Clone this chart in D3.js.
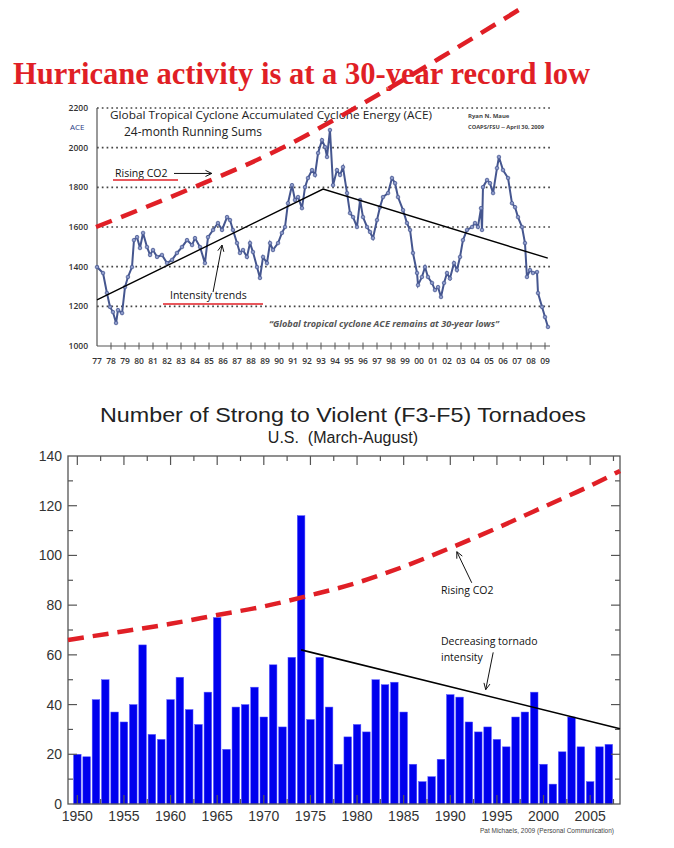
<!DOCTYPE html>
<html>
<head>
<meta charset="utf-8">
<script src="https://cdn.jsdelivr.net/npm/d3@7"></script>
<style>
  body { margin: 0; background: #fff; }
  svg { display: block; }
</style>
</head>
<body>
<svg id="chart" width="674" height="848"></svg>
<script>
// ---- hurricane ACE panel data ----
const aceYears = [1977.00,1977.43,1977.71,1977.93,1978.14,1978.36,1978.50,1978.79,1979.00,1979.21,1979.50,1979.64,1979.86,
  1980.07,1980.29,1980.57,1980.79,1981.00,1981.29,1981.64,1982.00,1982.36,1982.71,1983.07,1983.43,1983.79,1984.00,1984.36,
  1984.71,1984.93,1985.29,1985.64,1985.93,1986.29,1986.50,1986.71,1987.00,1987.21,1987.43,1987.71,1987.93,1988.14,1988.43,
  1988.64,1988.86,1989.14,1989.36,1989.57,1989.93,1990.21,1990.43,1990.64,1990.93,1991.14,1991.36,1991.64,1991.86,1992.07,
  1992.36,1992.57,1992.79,1993.07,1993.29,1993.43,1993.64,1993.86,1994.14,1994.36,1994.57,1994.86,1995.07,1995.29,1995.57,
  1995.79,1996.00,1996.29,1996.50,1996.71,1997.00,1997.21,1997.43,1997.79,1998.07,1998.29,1998.50,1998.86,1999.14,1999.36,
  1999.57,1999.86,1999.93,2000.21,2000.43,2000.64,2000.93,2001.14,2001.36,2001.57,2001.79,2002.00,2002.21,2002.50,2002.71,
  2002.93,2003.14,2003.43,2003.79,2004.00,2004.21,2004.43,2004.50,2004.57,2004.86,2005.07,2005.29,2005.57,2005.71,2006.00,
  2006.36,2006.64,2006.86,2007.07,2007.36,2007.57,2007.71,2007.93,2008.14,2008.43,2008.50,2008.79,2009.00,2009.21];
const aceValues = [1398,1368,1267,1197,1171,1116,1181,1166,1297,1348,1398,1534,1549,
  1494,1570,1499,1459,1484,1449,1459,1418,1434,1469,1499,1534,1509,1544,1499,
  1418,1549,1585,1620,1585,1650,1635,1585,1519,1469,1484,1449,1519,1474,1398,
  1343,1449,1418,1519,1484,1519,1570,1600,1720,1811,1736,1751,1695,1801,1847,
  1887,1862,1973,2038,2003,1953,2089,1811,1887,1862,1902,1771,1670,1650,1600,
  1736,1650,1600,1575,1544,1635,1700,1751,1771,1847,1821,1751,1685,1620,1585,
  1469,1368,1307,1348,1398,1348,1318,1282,1297,1247,1318,1368,1340,1418,1383,
  1449,1534,1585,1600,1620,1600,1695,1585,1801,1837,1821,1771,1897,1953,1887,
  1847,1720,1700,1650,1600,1519,1348,1383,1368,1373,1267,1197,1146,1096];
const aceTrendYears = [1977, 1993.15, 2009.2];
const aceTrendValues = [1232, 1791, 1443];
const aceCo2Years = [1976.93, 1983.64, 1990.21, 1995.43, 2001.5, 2007.36];
const aceCo2Values = [1600, 1792, 1998, 2200, 2452, 2705];
const aceYTicks = [1000, 1200, 1400, 1600, 1800, 2000, 2200];
const aceXLabels = ["77","78","79","80","81","82","83","84","85","86","87","88","89","90","91","92","93",
  "94","95","96","97","98","99","00","01","02","03","04","05","06","07","08","09"];

// ---- tornado panel data ----
const tornadoYears = d3.range(1950, 2008);
const tornadoCounts = [20,19,42,50,37,33,40,64,28,26,42,51,38,32,45,75,22,39,40,47,35,56,31,59,116,
  34,59,39,16,27,32,29,50,48,49,37,16,9,11,18,44,43,33,29,31,26,23,35,37,45,16,8,21,35,23,9,23,24];
const tornadoCo2Years = [1949, 1955, 1960, 1965, 1970, 1975, 1980, 1985, 1990, 1995, 2000, 2005, 2008.2];
const tornadoCo2Values = [66, 69.5, 72.5, 76, 79.5, 84, 89, 95.5, 103, 111, 119.5, 128, 134];
const tornadoTrendYears = [1974, 2008.2];
const tornadoTrendValues = [62, 30.3];
const tornadoYTicks = [0, 20, 40, 60, 80, 100, 120, 140];
const tornadoXLabels = [1950, 1955, 1960, 1965, 1970, 1975, 1980, 1985, 1990, 1995, 2000, 2005];

const svg = d3.select("#chart");
const red = "#e01f26";

// arrow helper (open head)
function arrow(g, x1, y1, x2, y2, color, w) {
  g.append("line").attr("x1", x1).attr("y1", y1).attr("x2", x2).attr("y2", y2)
    .attr("stroke", color).attr("stroke-width", w);
  const a = Math.atan2(y2 - y1, x2 - x1);
  [0.45, -0.45].forEach(function(d) {
    g.append("line").attr("x1", x2).attr("y1", y2)
      .attr("x2", x2 - 7 * Math.cos(a + d)).attr("y2", y2 - 7 * Math.sin(a + d))
      .attr("stroke", color).attr("stroke-width", w);
  });
}

// =================== TOP: hurricane ACE ===================
const gTop = svg.append("g");
const ax = d3.scaleLinear().domain([1977, 2009]).range([97, 545]);
const ay = d3.scaleLinear().domain([1000, 2200]).range([346, 108]);

gTop.append("text")
  .attr("x", 13).attr("y", 84)
  .attr("font-family", "Liberation Serif, serif").attr("font-weight", "bold")
  .attr("font-size", 31).attr("fill", red)
  .attr("textLength", 577).attr("lengthAdjust", "spacingAndGlyphs")
  .text("Hurricane activity is at a 30-year record low");

// dotted gridlines
gTop.selectAll(".grid").data(aceYTicks.slice(1)).join("line")
  .attr("x1", ax(1977)).attr("x2", 550)
  .attr("y1", d => ay(d)).attr("y2", d => ay(d))
  .attr("stroke", "#444").attr("stroke-width", 1.7)
  .attr("stroke-dasharray", "1.7,3.1");

// y axis
gTop.append("line").attr("x1", ax(1977)).attr("x2", ax(1977))
  .attr("y1", ay(2200)).attr("y2", ay(1000)).attr("stroke", "#555").attr("stroke-width", 1.2);
gTop.selectAll(".ylab").data(aceYTicks).join("text")
  .attr("x", 88).attr("y", d => ay(d) + 3)
  .attr("text-anchor", "end").attr("font-family", "Open Sans, sans-serif").attr("font-weight", 600)
  .attr("font-size", 8.5).attr("fill", "#333").text(d => d);
gTop.append("text").attr("x", 70).attr("y", 130)
  .attr("font-family", "Open Sans, sans-serif").attr("font-size", 8)
  .attr("fill", "#2c3b86").text("ACE");

// x axis with cross ticks
gTop.append("line").attr("x1", ax(1977)).attr("x2", 550)
  .attr("y1", ay(1000)).attr("y2", ay(1000)).attr("stroke", "#555").attr("stroke-width", 1.2);
gTop.selectAll(".xt").data(d3.range(1978, 2010)).join("line")
  .attr("x1", d => ax(d)).attr("x2", d => ax(d))
  .attr("y1", ay(1000) - 3.5).attr("y2", ay(1000) + 3.5)
  .attr("stroke", "#555").attr("stroke-width", 1);
gTop.selectAll(".xlab").data(aceXLabels).join("text")
  .attr("x", (d, i) => ax(1977 + i)).attr("y", 364)
  .attr("text-anchor", "middle").attr("font-family", "Open Sans, sans-serif").attr("font-weight", 600)
  .attr("font-size", 8.5).attr("fill", "#333").text(d => d);

// inner titles
gTop.append("text").attr("x", 110).attr("y", 119)
  .attr("font-family", "Open Sans, sans-serif").attr("font-size", 11).attr("fill", "#222")
  .attr("textLength", 322).attr("lengthAdjust", "spacingAndGlyphs")
  .text("Global Tropical Cyclone Accumulated Cyclone Energy (ACE)");
gTop.append("text").attr("x", 124).attr("y", 136)
  .attr("font-family", "Open Sans, sans-serif").attr("font-size", 12.5).attr("fill", "#222")
  .attr("textLength", 138).attr("lengthAdjust", "spacingAndGlyphs")
  .text("24-month Running Sums");
gTop.append("text").attr("x", 468).attr("y", 118)
  .attr("font-family", "Open Sans, sans-serif").attr("font-size", 6).attr("font-weight", "bold")
  .attr("fill", "#444").text("Ryan N. Maue");
gTop.append("text").attr("x", 468).attr("y", 129)
  .attr("font-family", "Open Sans, sans-serif").attr("font-size", 6).attr("font-weight", "bold")
  .attr("fill", "#444").attr("textLength", 76).attr("lengthAdjust", "spacingAndGlyphs")
  .text("COAPS/FSU  -- April 30, 2009");
gTop.append("text").attr("x", 269).attr("y", 327)
  .attr("font-family", "Open Sans, sans-serif").attr("font-size", 8).attr("font-style", "italic")
  .attr("font-weight", "bold").attr("fill", "#555")
  .attr("textLength", 230).attr("lengthAdjust", "spacingAndGlyphs")
  .text("\u201cGlobal tropical cyclone ACE remains at 30-year lows\u201d");

// ACE series
const aceLine = d3.line().x(d => ax(d[0])).y(d => ay(d[1]));
const acePts = aceYears.map((y, i) => [y, aceValues[i]]);
gTop.append("path").datum(acePts).attr("d", aceLine)
  .attr("fill", "none").attr("stroke", "#45568f").attr("stroke-width", 2);
gTop.selectAll(".acept").data(acePts).join("circle")
  .attr("cx", d => ax(d[0])).attr("cy", d => ay(d[1])).attr("r", 1.8)
  .attr("fill", "#8d9ac8").attr("stroke", "#4a5a94").attr("stroke-width", 0.8);

// trend
gTop.append("path").datum(aceTrendYears.map((y, i) => [y, aceTrendValues[i]])).attr("d", aceLine)
  .attr("fill", "none").attr("stroke", "#000").attr("stroke-width", 1.4);

// rising CO2 dashed
gTop.append("path").datum(aceCo2Years.map((y, i) => [y, aceCo2Values[i]]))
  .attr("d", d3.line().x(d => ax(d[0])).y(d => ay(d[1])).curve(d3.curveMonotoneX))
  .attr("fill", "none").attr("stroke", red).attr("stroke-width", 4.5)
  .attr("stroke-dasharray", "17,10");

// annotations
gTop.append("text").attr("x", 115).attr("y", 177)
  .attr("font-family", "Open Sans, sans-serif").attr("font-size", 10.5).attr("fill", "#111")
  .text("Rising CO2");
gTop.append("line").attr("x1", 113).attr("x2", 178).attr("y1", 180).attr("y2", 180)
  .attr("stroke", red).attr("stroke-width", 1.6);
arrow(gTop, ax(1982.5), ay(1870), ax(1985.2), ay(1870), "#111", 1);
gTop.append("text").attr("x", 170).attr("y", 299)
  .attr("font-family", "Open Sans, sans-serif").attr("font-size", 10.5).attr("fill", "#111")
  .text("Intensity trends");
gTop.append("line").attr("x1", 163).attr("x2", 263).attr("y1", 304).attr("y2", 304)
  .attr("stroke", red).attr("stroke-width", 1.6);
arrow(gTop, ax(1985.29), ay(1272), ax(1985.93), ay(1509), "#111", 1);

// =================== BOTTOM: tornadoes ===================
const gBot = svg.append("g");
const tx = d3.scaleLinear().domain([1949, 2008.2]).range([68, 620]);
const ty = d3.scaleLinear().domain([0, 140]).range([804, 456]);

gBot.append("text").attr("x", 343).attr("y", 422).attr("text-anchor", "middle")
  .attr("font-family", "Liberation Sans, Arial, sans-serif").attr("font-size", 21).attr("fill", "#222")
  .attr("textLength", 486).attr("lengthAdjust", "spacingAndGlyphs")
  .text("Number of Strong to Violent (F3-F5) Tornadoes");
gBot.append("text").attr("x", 343).attr("y", 443).attr("text-anchor", "middle")
  .attr("font-family", "Liberation Sans, Arial, sans-serif").attr("font-size", 16).attr("fill", "#222")
  .attr("xml:space", "preserve")
  .text("U.S.  (March-August)");

// bars
const bw = 7.6;
gBot.selectAll(".bar").data(tornadoCounts).join("rect")
  .attr("x", (d, i) => tx(tornadoYears[i]) - bw / 2)
  .attr("y", d => ty(d))
  .attr("width", bw).attr("height", d => ty(0) - ty(d))
  .attr("fill", "#0000ee").attr("stroke", "#5a5aff").attr("stroke-width", 0.5);

// frame
gBot.append("rect").attr("x", tx.range()[0]).attr("y", ty(140))
  .attr("width", tx.range()[1] - tx.range()[0]).attr("height", ty(0) - ty(140))
  .attr("fill", "none").attr("stroke", "#555").attr("stroke-width", 1.3);

// frame ticks
const xTickYears = d3.range(1950, 2008.3, 2.5);
gBot.selectAll(".tt").data(xTickYears).join("line")
  .attr("x1", d => tx(d)).attr("x2", d => tx(d))
  .attr("y1", ty(140)).attr("y2", (d, i) => ty(140) + (i % 2 === 0 ? 9 : 5))
  .attr("stroke", "#555").attr("stroke-width", 1.2);
gBot.selectAll(".bt").data(xTickYears).join("line")
  .attr("x1", d => tx(d)).attr("x2", d => tx(d))
  .attr("y1", ty(0)).attr("y2", (d, i) => ty(0) - (i % 2 === 0 ? 9 : 5))
  .attr("stroke", "#555").attr("stroke-width", 1.2);
const yTickVals = d3.range(10, 140, 10);
[tx.range()[0], tx.range()[1]].forEach(function(xx, side) {
  gBot.selectAll(".yt" + side).data(yTickVals).join("line")
    .attr("y1", d => ty(d)).attr("y2", d => ty(d))
    .attr("x1", xx)
    .attr("x2", d => xx + (side === 0 ? 1 : -1) * (d % 20 === 0 ? 9 : 5))
    .attr("stroke", "#555").attr("stroke-width", 1.2);
});

// axis labels
gBot.selectAll(".tyl").data(tornadoYTicks).join("text")
  .attr("x", 62).attr("y", d => ty(d) + 5)
  .attr("text-anchor", "end").attr("font-family", "Liberation Sans, Arial, sans-serif")
  .attr("font-size", 14).attr("fill", "#333").text(d => d);
gBot.selectAll(".txl").data(tornadoXLabels).join("text")
  .attr("x", d => tx(d)).attr("y", 821)
  .attr("text-anchor", "middle").attr("font-family", "Liberation Sans, Arial, sans-serif")
  .attr("font-size", 14).attr("fill", "#333").text(d => d);

// CO2 curve
gBot.append("path").datum(tornadoCo2Years.map((y, i) => [y, tornadoCo2Values[i]]))
  .attr("d", d3.line().x(d => tx(d[0])).y(d => ty(d[1])).curve(d3.curveMonotoneX))
  .attr("fill", "none").attr("stroke", red).attr("stroke-width", 4.5)
  .attr("stroke-dasharray", "16,9");

// trend
gBot.append("line")
  .attr("x1", tx(tornadoTrendYears[0])).attr("y1", ty(tornadoTrendValues[0]))
  .attr("x2", tx(tornadoTrendYears[1])).attr("y2", ty(tornadoTrendValues[1]))
  .attr("stroke", "#000").attr("stroke-width", 1.6);

// annotations
gBot.append("text").attr("x", 441).attr("y", 594)
  .attr("font-family", "Open Sans, sans-serif").attr("font-size", 10.5).attr("fill", "#111")
  .text("Rising CO2");
arrow(gBot, tx(1992.3), ty(89), tx(1990.7), ty(101.5), "#111", 1);
gBot.append("text").attr("x", 441).attr("y", 645)
  .attr("font-family", "Open Sans, sans-serif").attr("font-size", 10.5).attr("fill", "#111")
  .text("Decreasing tornado");
gBot.append("text").attr("x", 441).attr("y", 661)
  .attr("font-family", "Open Sans, sans-serif").attr("font-size", 10.5).attr("fill", "#111")
  .text("intensity");
arrow(gBot, tx(1994.6), ty(61), tx(1993.8), ty(46), "#111", 1);
gBot.append("text").attr("x", 614).attr("y", 833).attr("text-anchor", "end")
  .attr("font-family", "Liberation Sans, Arial, sans-serif").attr("font-size", 6.5).attr("fill", "#444")
  .text("Pat Michaels, 2009 (Personal Communication)");
</script>
</body>
</html>
